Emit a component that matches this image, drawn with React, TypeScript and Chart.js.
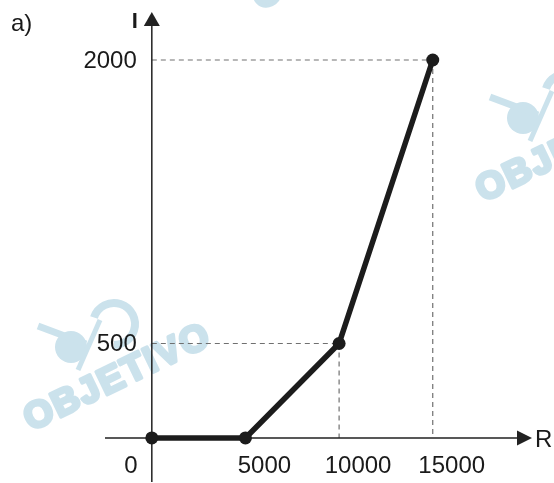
import React, { useEffect, useRef } from "react";
import { Chart, registerables } from "chart.js";

Chart.register(...registerables);

const rValues = [0, 5000, 10000, 15000];
const iValues = [0, 0, 500, 2000];
const xTickValues = [0, 5000, 10000, 15000];
const xTickLabels = ["0", "5000", "10000", "15000"];
const yTickValues = [500, 2000];
const yTickLabels = ["500", "2000"];
const guidePoints = [2, 3];
const watermarkText = "OBJETIVO";

const FONT = '"Liberation Sans", Arial, sans-serif';

const drawPlugin = {
  id: "physAxes",
  beforeDraw(chart: any) {
    const ctx = chart.ctx;
    ctx.save();
    ctx.fillStyle = "#ffffff";
    ctx.fillRect(0, 0, chart.width, chart.height);
    const marks = [
      { x: 118, y: 378 },
      { x: 570, y: 149 },
      { x: 346, y: -43 },
    ];
    const col = "#cbe2ec";
    ctx.fillStyle = col;
    ctx.strokeStyle = col;
    ctx.lineJoin = "round";
    marks.forEach((m) => {
      ctx.save();
      ctx.translate(m.x, m.y);
      ctx.save();
      ctx.rotate(-0.45);
      ctx.font = `bold 37px ${FONT}`;
      (ctx as any).letterSpacing = "2px";
      ctx.textAlign = "center";
      ctx.textBaseline = "middle";
      ctx.lineWidth = 3.5;
      ctx.fillText(watermarkText, 0, 0);
      ctx.strokeText(watermarkText, 0, 0);
      ctx.restore();
      // logo
      ctx.beginPath();
      ctx.arc(-47, -31, 16, 0, Math.PI * 2);
      ctx.fill();
      ctx.lineWidth = 8;
      ctx.beginPath();
      ctx.arc(-4, -54, 21, Math.PI * 1.1, Math.PI * 0.5, false);
      ctx.stroke();
      ctx.lineWidth = 7;
      ctx.beginPath();
      ctx.moveTo(-80, -52);
      ctx.lineTo(-32, -34);
      ctx.stroke();
      ctx.lineWidth = 5;
      ctx.beginPath();
      ctx.moveTo(-40, -8);
      ctx.lineTo(-18, -58);
      ctx.stroke();
      ctx.restore();
    });
    ctx.restore();
  },
  beforeDatasetsDraw(chart: any) {
    const ctx = chart.ctx;
    const xs = chart.scales.x;
    const ys = chart.scales.y;
    const area = chart.chartArea;
    const x0 = xs.getPixelForValue(0);
    const y0 = ys.getPixelForValue(0);
    ctx.save();
    ctx.strokeStyle = "#707070";
    ctx.lineWidth = 1.2;
    ctx.setLineDash([5, 4]);
    guidePoints.forEach((i) => {
      const px = xs.getPixelForValue(rValues[i]);
      const py = ys.getPixelForValue(iValues[i]);
      ctx.beginPath();
      ctx.moveTo(x0, py);
      ctx.lineTo(px, py);
      ctx.moveTo(px, py);
      ctx.lineTo(px, y0);
      ctx.stroke();
    });
    ctx.setLineDash([]);
    ctx.strokeStyle = "#222222";
    ctx.fillStyle = "#222222";
    ctx.lineWidth = 1.5;
    ctx.beginPath();
    ctx.moveTo(area.left, y0);
    ctx.lineTo(area.right - 10, y0);
    ctx.moveTo(x0, area.bottom);
    ctx.lineTo(x0, area.top + 10);
    ctx.stroke();
    ctx.beginPath();
    ctx.moveTo(area.right, y0);
    ctx.lineTo(area.right - 15, y0 - 7.5);
    ctx.lineTo(area.right - 15, y0 + 7.5);
    ctx.closePath();
    ctx.fill();
    ctx.beginPath();
    ctx.moveTo(x0, area.top);
    ctx.lineTo(x0 - 8, area.top + 14);
    ctx.lineTo(x0 + 8, area.top + 14);
    ctx.closePath();
    ctx.fill();
    ctx.restore();
  },
  afterDraw(chart: any) {
    const ctx = chart.ctx;
    const xs = chart.scales.x;
    const ys = chart.scales.y;
    const area = chart.chartArea;
    const x0 = xs.getPixelForValue(0);
    const y0 = ys.getPixelForValue(0);
    ctx.save();
    ctx.fillStyle = "#1a1a1a";
    ctx.font = `24px ${FONT}`;
    ctx.textBaseline = "middle";
    ctx.textAlign = "center";
    xTickValues.forEach((v, i) => {
      const px = xs.getPixelForValue(v);
      const off = v === 0 ? -21 : 19;
      ctx.fillText(xTickLabels[i], px + off, y0 + 28);
    });
    ctx.textAlign = "right";
    yTickValues.forEach((v, i) => {
      const py = ys.getPixelForValue(v);
      ctx.fillText(yTickLabels[i], x0 - 15, py + 1);
    });
    ctx.textAlign = "left";
    ctx.fillText("R", area.right + 3, y0 + 2);
    ctx.font = `bold 22px ${FONT}`;
    ctx.textAlign = "center";
    ctx.fillText("I", x0 - 17, area.top + 10);
    ctx.font = `24px ${FONT}`;
    ctx.textAlign = "left";
    ctx.fillText("a)", 11, area.top + 12);
    ctx.restore();
  },
};

export default function App() {
  const ref = useRef<HTMLCanvasElement>(null);
  useEffect(() => {
    if (!ref.current) return;
    const chart = new Chart(ref.current, {
      type: "line",
      data: {
        datasets: [
          {
            data: rValues.map((r, i) => ({ x: r, y: iValues[i] })),
            borderColor: "#1c1c1c",
            backgroundColor: "#1c1c1c",
            borderWidth: 5.5,
            borderCapStyle: "round",
            borderJoinStyle: "round",
            pointRadius: 6.5,
            pointBackgroundColor: "#1c1c1c",
            pointBorderWidth: 0,
            tension: 0,
            clip: false,
          },
        ],
      },
      options: {
        animation: false,
        responsive: false,
        devicePixelRatio: 1,
        layout: { autoPadding: false, padding: { left: 105, right: 22, top: 12, bottom: 1 } },
        plugins: { legend: { display: false }, tooltip: { enabled: false } },
        scales: {
          x: { type: "linear", min: -2500, max: 20300, display: false },
          y: { type: "linear", min: -233, max: 2254, display: false },
        },
      },
      plugins: [drawPlugin],
    } as any);
    return () => chart.destroy();
  }, []);
  return (
    <div style={{ position: "fixed", left: 0, top: 0, width: 554, height: 483 }}>
      <canvas ref={ref} width={554} height={483} />
    </div>
  );
}
